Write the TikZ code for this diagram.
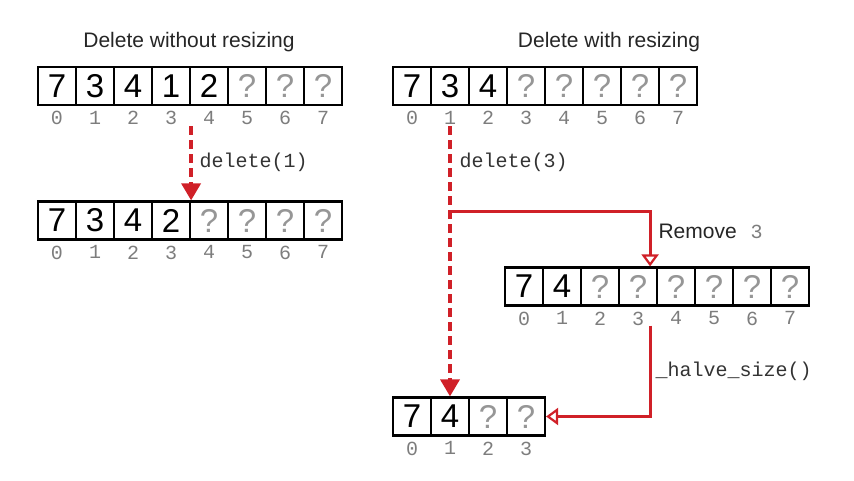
\documentclass[tikz,border=0pt]{standalone}
\usepackage{fontspec}
\setmainfont{Liberation Sans}
\setmonofont{Liberation Mono}
\usetikzlibrary{arrows.meta}
\definecolor{arrowred}{RGB}{208,32,40}
\definecolor{qgray}{RGB}{150,150,150}
\definecolor{idxgray}{RGB}{125,125,125}

\begin{document}
\begin{tikzpicture}[
		x=1pt, y=-1pt,
		node distance={38pt},
		cell/.style = {draw, line width=2.2pt, minimum size=38pt, inner sep=0pt,
			font=\fontsize{33}{35}\selectfont, label={[idx]below:#1}},
		qcell/.style = {cell=#1, text=qgray},
		idx/.style = {font=\fontsize{20}{22}\ttfamily, text=idxgray, inner sep=0pt, label distance=5pt},
		title/.style = {font=\fontsize{21}{24}\selectfont, text=black!85, anchor=base},
		call/.style = {font=\fontsize{20}{22}\ttfamily, text=black!80, anchor=base west},
		dashedarrow/.style = {draw=arrowred, line width=3.5pt, dash pattern=on 9pt off 5pt,
			-{Triangle[length=17pt, width=19pt]}},
		solidarrow/.style = {draw=arrowred, line width=3pt,
			-{Triangle[open, length=12pt, width=17pt, line width=2.2pt, fill=white]}}
	]
	\useasboundingbox (0,0) rectangle (854,481);
	\node[title] (t1) at (189,48) {Delete without resizing};
	\node[title] (t2) at (609,48) {Delete with resizing};
	% before
	\node[cell=0] (a0) at (57,86) {7};
	\node[cell=1] (a1) [right of=a0] {3};
	\node[cell=2] (a2) [right of=a1] {4};
	\node[cell=3] (a3) [right of=a2] {1};
	\node[cell=4] (a4) [right of=a3] {2};
	\node[qcell=5] (a5) [right of=a4] {?};
	\node[qcell=6] (a6) [right of=a5] {?};
	\node[qcell=7] (a7) [right of=a6] {?};
	\node[cell=0] (b0) at (412,86) {7};
	\node[cell=1] (b1) [right of=b0] {3};
	\node[cell=2] (b2) [right of=b1] {4};
	\node[qcell=3] (b3) [right of=b2] {?};
	\node[qcell=4] (b4) [right of=b3] {?};
	\node[qcell=5] (b5) [right of=b4] {?};
	\node[qcell=6] (b6) [right of=b5] {?};
	\node[qcell=7] (b7) [right of=b6] {?};
	% after
	\node[cell=0] (c0) at (57,220.5) {7};
	\node[cell=1] (c1) [right of=c0] {3};
	\node[cell=2] (c2) [right of=c1] {4};
	\node[cell=3] (c3) [right of=c2] {2};
	\node[qcell=4] (c4) [right of=c3] {?};
	\node[qcell=5] (c5) [right of=c4] {?};
	\node[qcell=6] (c6) [right of=c5] {?};
	\node[qcell=7] (c7) [right of=c6] {?};
	\node[cell=0] (d0) at (524,286.5) {7};
	\node[cell=1] (d1) [right of=d0] {4};
	\node[qcell=2] (d2) [right of=d1] {?};
	\node[qcell=3] (d3) [right of=d2] {?};
	\node[qcell=4] (d4) [right of=d3] {?};
	\node[qcell=5] (d5) [right of=d4] {?};
	\node[qcell=6] (d6) [right of=d5] {?};
	\node[qcell=7] (d7) [right of=d6] {?};
	\node[cell=0] (e0) at (412,416.5) {7};
	\node[cell=1] (e1) [right of=e0] {4};
	\node[qcell=2] (e2) [right of=e1] {?};
	\node[qcell=3] (e3) [right of=e2] {?};
	% arrows
	\coordinate (s1) at ([yshift=-20pt]a3.south east);
	\coordinate (s2) at ([yshift=-20pt]b1.south);
	\coordinate (j) at (450,212);
	\coordinate (s3) at ([xshift=-8pt, yshift=-19pt]d3.south east);
	\draw[dashedarrow] (s1) -- (c3.north east);
	\draw[dashedarrow] (s2) -- (e1.north);
	\draw[solidarrow] (j) -| ([xshift=-8pt]d3.north east);
	\draw[solidarrow] (s3) |- (e3.east);
	\node[call] (l1) at (196,168) {delete(1)};
	\node[call] (l2) at (456,168) {delete(3)};
	\node[title, anchor=base west] (l3) at (655,239) {Remove\hspace{14pt}{\fontsize{20}{22}\ttfamily\color{idxgray}3}};
	\node[call] (l4) at (652,376) {\_halve\_size()};
\end{tikzpicture}
\end{document}
